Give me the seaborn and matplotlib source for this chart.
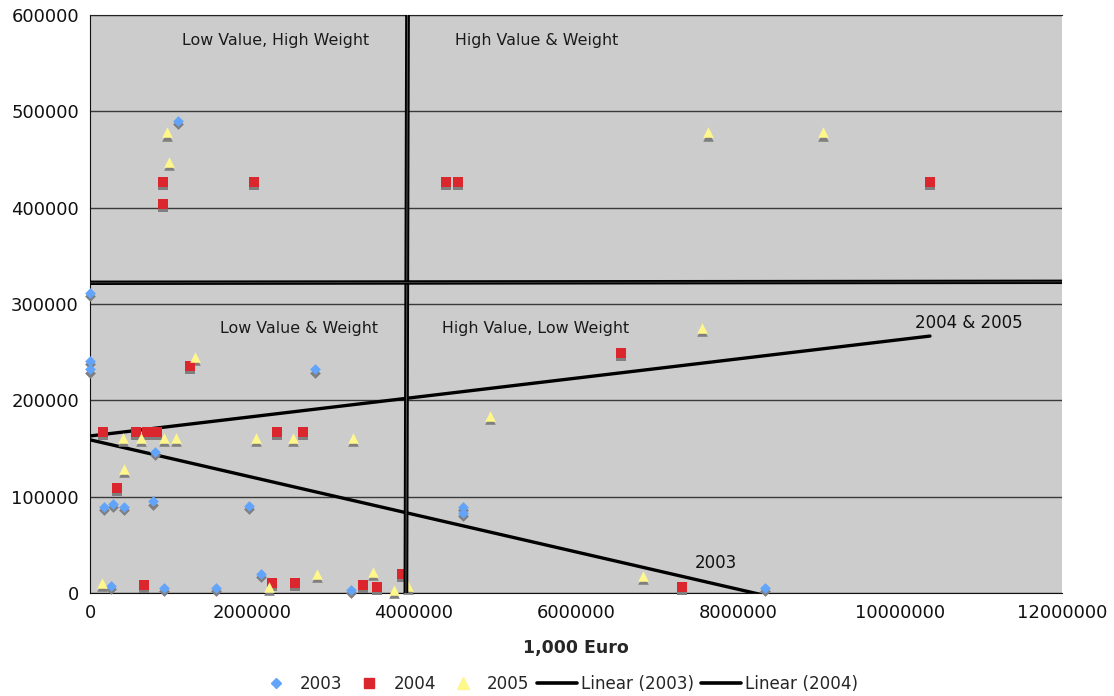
import numpy as np
import pandas as pd
import matplotlib
matplotlib.use("Agg")
import matplotlib.pyplot as plt
import matplotlib.transforms as mtransforms
from matplotlib.lines import Line2D
from matplotlib.ticker import StrMethodFormatter, MultipleLocator
import seaborn as sns

sns.set_style("white")
plt.rcParams["font.family"] = ["DejaVu Sans"]

# ---- data: value (1,000 Euro) vs weight ----
x_2003 = [0, 0, 0, 1090000, 2780000, 800000, 170000, 280000, 420000, 780000,
          1960000, 260000, 910000, 1560000, 2110000, 3220000, 4600000, 4600000, 8330000]
y_2003 = [311000, 241000, 232000, 490000, 232000, 146000, 89000, 92000, 89000, 95000,
          90000, 7000, 5000, 5000, 20000, 3000, 89000, 83000, 5000]

x_2004 = [900000, 900000, 2020000, 4400000, 4540000, 10370000, 1240000, 160000, 570000,
          700000, 830000, 2310000, 2630000, 330000, 670000, 2250000, 2530000, 3370000,
          3540000, 3850000, 6550000, 7310000]
y_2004 = [427000, 404000, 427000, 427000, 427000, 427000, 236000, 167000, 167000,
          167000, 167000, 167000, 167000, 109000, 8000, 10000, 10000, 8000,
          6000, 20000, 249000, 6000]

x_2005 = [950000, 970000, 7630000, 9050000, 1300000, 7560000, 410000, 630000, 910000,
          1060000, 2050000, 2510000, 3250000, 420000, 150000, 2210000, 2800000, 3490000,
          3750000, 3930000, 4940000, 6830000]
y_2005 = [478000, 447000, 478000, 478000, 245000, 275000, 161000, 161000, 161000,
          161000, 161000, 161000, 161000, 129000, 10000, 6000, 20000, 22000,
          3000, 7000, 184000, 18000]

# linear trend lines: (intercept, slope, x_start, x_end)
trend_2003 = (159000, -0.01939, 0, 8330000)
trend_2004 = (163000, 0.01000, 0, 10370000)

# quadrant dividers
value_split = [3920000, 3900000]     # x at top / bottom
weight_split = [322000, 323000]      # y at left / right

quadrant_labels = ["Low Value, High Weight", "High Value & Weight",
                   "Low Value & Weight", "High Value, Low Weight"]
quadrant_pos = [(1140000, 573000), (4510000, 573000),
                (1610000, 275000), (4340000, 275000)]
trend_labels = [("2004 & 2005", 10190000, 280000), ("2003", 7470000, 31000)]

series = [
    ("2003", x_2003, y_2003, "D", "#63A4FB", 30),
    ("2004", x_2004, y_2004, "s", "#DC262E", 50),
    ("2005", x_2005, y_2005, "^", "#FFF68C", 58),
]

fig = plt.figure(figsize=(11.14, 6.96), dpi=100)
ax = fig.add_axes([0.0808, 0.148, 0.8725, 0.8305])
ax.set_facecolor("#CCCCCC")

ax.set_xlim(0, 12000000)
ax.set_ylim(0, 600000)
ax.xaxis.set_major_locator(MultipleLocator(2000000))
ax.yaxis.set_major_locator(MultipleLocator(100000))
ax.xaxis.set_major_formatter(StrMethodFormatter("{x:.0f}"))
ax.yaxis.set_major_formatter(StrMethodFormatter("{x:.0f}"))
ax.grid(axis="y", color="#3a3a3a", linewidth=1.0)
ax.grid(axis="x", visible=False)
ax.set_axisbelow(True)

ax.spines["right"].set_visible(False)
ax.spines["top"].set_color("#222222")
ax.spines["left"].set_color("#111111")
ax.spines["bottom"].set_color("#111111")
ax.tick_params(axis="both", direction="out", length=5, width=1, color="#333333",
               labelsize=13, pad=3, labelcolor="#111111")

# trend lines
for inter, slope, xa, xb in (trend_2003, trend_2004):
    tx = np.array([xa, xb], dtype=float)
    ty = inter + slope * tx
    sns.lineplot(x=tx, y=ty, ax=ax, color="black", linewidth=2.4, zorder=3,
                 legend=False)

# markers with drop shadow
shadow = mtransforms.offset_copy(ax.transData, fig=fig, x=0, y=-2.2, units="points")
for name, xs, ys, mk, col, size in series:
    ax.scatter(xs, ys, marker=mk, s=size, color="#7F7F7F", linewidths=0,
               transform=shadow, zorder=4, clip_on=False)
    df = pd.DataFrame({"x": xs, "y": ys})
    sns.scatterplot(data=df, x="x", y="y", marker=mk, s=size, color=col,
                    linewidth=0, ax=ax, zorder=5, legend=False, clip_on=False)

# quadrant divider lines
ax.plot(value_split, [600000, 0], color="black", linewidth=3.4, zorder=6,
        solid_capstyle="butt")
ax.plot(value_split, [600000, 0], color="#555555", linewidth=0.7, zorder=6)
ax.plot([0, 12000000], weight_split, color="black", linewidth=3.2, zorder=6,
        solid_capstyle="butt")
ax.plot([0, 12000000], weight_split, color="#444444", linewidth=0.6, zorder=6)

for txt, (qx, qy) in zip(quadrant_labels, quadrant_pos):
    ax.text(qx, qy, txt, fontsize=11.4, color="#1a1a1a", ha="left", va="center",
            zorder=7)
for txt, tx_, ty_ in trend_labels:
    ax.text(tx_, ty_, txt, fontsize=12, color="#111111", ha="left", va="center",
            zorder=7)

ax.set_xlabel("1,000 Euro", fontsize=12.5, fontweight="bold", labelpad=12)
ax.set_ylabel("")

handles = [
    Line2D([], [], marker="D", color="#63A4FB", linestyle="none", markersize=5),
    Line2D([], [], marker="s", color="#DC262E", linestyle="none", markersize=7),
    Line2D([], [], marker="^", color="#FFF68C", linestyle="none", markersize=8),
    Line2D([], [], color="black", linewidth=2.6),
    Line2D([], [], color="black", linewidth=2.6),
]
labels = ["2003", "2004", "2005", "Linear (2003)", "Linear (2004)"]
fig.legend(handles, labels, loc="center", bbox_to_anchor=(0.5, 1 - 684 / 696),
           ncol=5, frameon=False, fontsize=12.1, handlelength=2.35,
           handletextpad=0.25, columnspacing=0.45, borderaxespad=0)

fig.savefig("out.png", dpi=100)
